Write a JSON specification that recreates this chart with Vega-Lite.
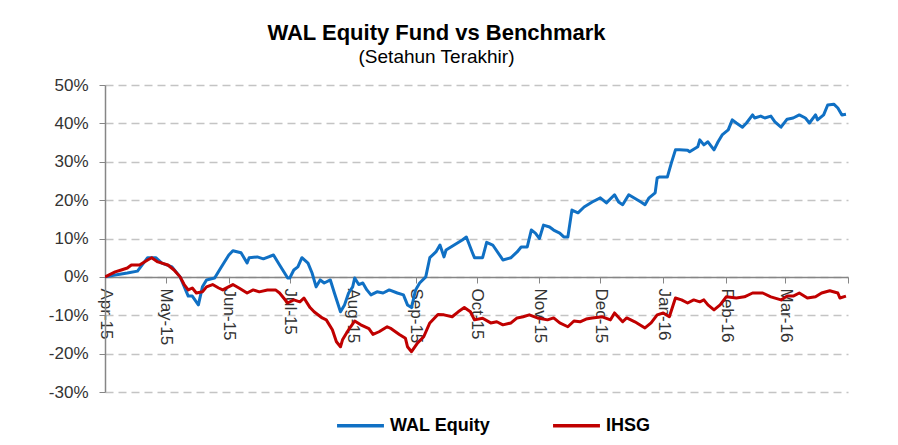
{
  "$schema": "https://vega.github.io/schema/vega-lite/v6.json",
  "width": 743,
  "height": 307,
  "autosize": {"type": "none"},
  "padding": {"left": 105, "top": 85, "right": 50, "bottom": 53},
  "background": "white",
  "title": {
    "text": "WAL Equity Fund vs Benchmark",
    "subtitle": "(Setahun Terakhir)",
    "anchor": "middle",
    "dx": -40,
    "font": "Liberation Sans",
    "fontSize": 22,
    "fontWeight": "bold",
    "color": "#000000",
    "subtitleFont": "Liberation Sans",
    "subtitleFontSize": 19,
    "subtitleColor": "#000000",
    "subtitlePadding": 3,
    "offset": 8
  },
  "data": {"name": "rows"},
  "datasets": {
    "rows": [
      {"d":"2015-04-01","s":"WAL Equity","v":0},{"d":"2015-04-06","s":"WAL Equity","v":0.5},{"d":"2015-04-12","s":"WAL Equity","v":1},{"d":"2015-04-17","s":"WAL Equity","v":1.5},{"d":"2015-04-22","s":"WAL Equity","v":5},{"d":"2015-04-26","s":"WAL Equity","v":5},{"d":"2015-04-29","s":"WAL Equity","v":3.6},{"d":"2015-05-04","s":"WAL Equity","v":2.6},{"d":"2015-05-08","s":"WAL Equity","v":0},{"d":"2015-05-12","s":"WAL Equity","v":-5},{"d":"2015-05-14","s":"WAL Equity","v":-5},{"d":"2015-05-17","s":"WAL Equity","v":-7.3},{"d":"2015-05-19","s":"WAL Equity","v":-2.6},{"d":"2015-05-21","s":"WAL Equity","v":-0.8},{"d":"2015-05-25","s":"WAL Equity","v":-0.3},{"d":"2015-05-28","s":"WAL Equity","v":2.3},{"d":"2015-06-01","s":"WAL Equity","v":5.7},{"d":"2015-06-03","s":"WAL Equity","v":6.8},{"d":"2015-06-07","s":"WAL Equity","v":6.3},{"d":"2015-06-10","s":"WAL Equity","v":3.6},{"d":"2015-06-11","s":"WAL Equity","v":5},{"d":"2015-06-15","s":"WAL Equity","v":5.2},{"d":"2015-06-18","s":"WAL Equity","v":4.7},{"d":"2015-06-23","s":"WAL Equity","v":5.7},{"d":"2015-06-26","s":"WAL Equity","v":3.1},{"d":"2015-06-30","s":"WAL Equity","v":-0.3},{"d":"2015-07-01","s":"WAL Equity","v":-0.3},{"d":"2015-07-03","s":"WAL Equity","v":1.8},{"d":"2015-07-05","s":"WAL Equity","v":2.6},{"d":"2015-07-07","s":"WAL Equity","v":5},{"d":"2015-07-10","s":"WAL Equity","v":3.6},{"d":"2015-07-12","s":"WAL Equity","v":1},{"d":"2015-07-14","s":"WAL Equity","v":-2.6},{"d":"2015-07-16","s":"WAL Equity","v":-0.8},{"d":"2015-07-18","s":"WAL Equity","v":-1.6},{"d":"2015-07-21","s":"WAL Equity","v":-0.8},{"d":"2015-07-23","s":"WAL Equity","v":-4.2},{"d":"2015-07-26","s":"WAL Equity","v":-9.1},{"d":"2015-07-28","s":"WAL Equity","v":-7.3},{"d":"2015-07-30","s":"WAL Equity","v":-4.2},{"d":"2015-08-01","s":"WAL Equity","v":-2.6},{"d":"2015-08-02","s":"WAL Equity","v":-0.3},{"d":"2015-08-04","s":"WAL Equity","v":-2},{"d":"2015-08-06","s":"WAL Equity","v":-1.6},{"d":"2015-08-08","s":"WAL Equity","v":-3.4},{"d":"2015-08-10","s":"WAL Equity","v":-4.7},{"d":"2015-08-13","s":"WAL Equity","v":-3.9},{"d":"2015-08-16","s":"WAL Equity","v":-4.2},{"d":"2015-08-19","s":"WAL Equity","v":-3.4},{"d":"2015-08-23","s":"WAL Equity","v":-4.2},{"d":"2015-08-26","s":"WAL Equity","v":-4.7},{"d":"2015-08-28","s":"WAL Equity","v":-7.3},{"d":"2015-08-30","s":"WAL Equity","v":-8},{"d":"2015-09-01","s":"WAL Equity","v":-3.4},{"d":"2015-09-03","s":"WAL Equity","v":-1.6},{"d":"2015-09-06","s":"WAL Equity","v":0},{"d":"2015-09-08","s":"WAL Equity","v":5},{"d":"2015-09-11","s":"WAL Equity","v":6.5},{"d":"2015-09-13","s":"WAL Equity","v":8.3},{"d":"2015-09-15","s":"WAL Equity","v":5.2},{"d":"2015-09-16","s":"WAL Equity","v":7},{"d":"2015-09-20","s":"WAL Equity","v":8.3},{"d":"2015-09-24","s":"WAL Equity","v":9.6},{"d":"2015-09-26","s":"WAL Equity","v":10.4},{"d":"2015-09-29","s":"WAL Equity","v":6.3},{"d":"2015-09-30","s":"WAL Equity","v":5},{"d":"2015-10-04","s":"WAL Equity","v":5},{"d":"2015-10-06","s":"WAL Equity","v":9},{"d":"2015-10-09","s":"WAL Equity","v":8.3},{"d":"2015-10-13","s":"WAL Equity","v":5.2},{"d":"2015-10-14","s":"WAL Equity","v":4.4},{"d":"2015-10-18","s":"WAL Equity","v":5},{"d":"2015-10-21","s":"WAL Equity","v":6.5},{"d":"2015-10-23","s":"WAL Equity","v":7.8},{"d":"2015-10-26","s":"WAL Equity","v":7.8},{"d":"2015-10-28","s":"WAL Equity","v":12.2},{"d":"2015-10-30","s":"WAL Equity","v":11.4},{"d":"2015-11-01","s":"WAL Equity","v":10},{"d":"2015-11-03","s":"WAL Equity","v":13.5},{"d":"2015-11-06","s":"WAL Equity","v":13},{"d":"2015-11-08","s":"WAL Equity","v":12.2},{"d":"2015-11-11","s":"WAL Equity","v":11.4},{"d":"2015-11-13","s":"WAL Equity","v":10.4},{"d":"2015-11-15","s":"WAL Equity","v":10.4},{"d":"2015-11-17","s":"WAL Equity","v":17.4},{"d":"2015-11-20","s":"WAL Equity","v":16.7},{"d":"2015-11-23","s":"WAL Equity","v":18.2},{"d":"2015-11-27","s":"WAL Equity","v":19.5},{"d":"2015-12-01","s":"WAL Equity","v":20.6},{"d":"2015-12-04","s":"WAL Equity","v":19.3},{"d":"2015-12-08","s":"WAL Equity","v":21.4},{"d":"2015-12-10","s":"WAL Equity","v":19.5},{"d":"2015-12-12","s":"WAL Equity","v":18.8},{"d":"2015-12-15","s":"WAL Equity","v":21.4},{"d":"2015-12-21","s":"WAL Equity","v":19.5},{"d":"2015-12-23","s":"WAL Equity","v":18.8},{"d":"2015-12-25","s":"WAL Equity","v":20.6},{"d":"2015-12-28","s":"WAL Equity","v":21.9},{"d":"2015-12-29","s":"WAL Equity","v":25.8},{"d":"2015-12-30","s":"WAL Equity","v":26},{"d":"2016-01-03","s":"WAL Equity","v":26},{"d":"2016-01-05","s":"WAL Equity","v":29.7},{"d":"2016-01-07","s":"WAL Equity","v":33.1},{"d":"2016-01-09","s":"WAL Equity","v":33.1},{"d":"2016-01-13","s":"WAL Equity","v":33},{"d":"2016-01-14","s":"WAL Equity","v":32.6},{"d":"2016-01-18","s":"WAL Equity","v":33.9},{"d":"2016-01-19","s":"WAL Equity","v":35.7},{"d":"2016-01-21","s":"WAL Equity","v":34.4},{"d":"2016-01-23","s":"WAL Equity","v":35.2},{"d":"2016-01-26","s":"WAL Equity","v":33.1},{"d":"2016-01-28","s":"WAL Equity","v":35.2},{"d":"2016-01-30","s":"WAL Equity","v":37},{"d":"2016-02-02","s":"WAL Equity","v":38.3},{"d":"2016-02-04","s":"WAL Equity","v":40.9},{"d":"2016-02-06","s":"WAL Equity","v":40.1},{"d":"2016-02-09","s":"WAL Equity","v":39},{"d":"2016-02-11","s":"WAL Equity","v":40.1},{"d":"2016-02-14","s":"WAL Equity","v":42.2},{"d":"2016-02-15","s":"WAL Equity","v":41.4},{"d":"2016-02-18","s":"WAL Equity","v":41.9},{"d":"2016-02-20","s":"WAL Equity","v":41.4},{"d":"2016-02-23","s":"WAL Equity","v":41.9},{"d":"2016-02-25","s":"WAL Equity","v":40.4},{"d":"2016-02-28","s":"WAL Equity","v":39},{"d":"2016-03-02","s":"WAL Equity","v":41.1},{"d":"2016-03-05","s":"WAL Equity","v":41.4},{"d":"2016-03-08","s":"WAL Equity","v":42.2},{"d":"2016-03-11","s":"WAL Equity","v":41.4},{"d":"2016-03-13","s":"WAL Equity","v":40.1},{"d":"2016-03-16","s":"WAL Equity","v":42.2},{"d":"2016-03-17","s":"WAL Equity","v":40.9},{"d":"2016-03-20","s":"WAL Equity","v":42.2},{"d":"2016-03-22","s":"WAL Equity","v":44.8},{"d":"2016-03-25","s":"WAL Equity","v":45},{"d":"2016-03-27","s":"WAL Equity","v":44},{"d":"2016-03-29","s":"WAL Equity","v":42.2},{"d":"2016-03-31","s":"WAL Equity","v":42.4},
      {"d":"2015-04-01","s":"IHSG","v":0},{"d":"2015-04-06","s":"IHSG","v":1.3},{"d":"2015-04-09","s":"IHSG","v":1.8},{"d":"2015-04-12","s":"IHSG","v":2.3},{"d":"2015-04-14","s":"IHSG","v":3.1},{"d":"2015-04-18","s":"IHSG","v":3.1},{"d":"2015-04-22","s":"IHSG","v":4.4},{"d":"2015-04-24","s":"IHSG","v":5},{"d":"2015-04-27","s":"IHSG","v":3.9},{"d":"2015-04-29","s":"IHSG","v":3.6},{"d":"2015-05-02","s":"IHSG","v":3.1},{"d":"2015-05-05","s":"IHSG","v":1.8},{"d":"2015-05-08","s":"IHSG","v":0},{"d":"2015-05-10","s":"IHSG","v":-2},{"d":"2015-05-12","s":"IHSG","v":-3.4},{"d":"2015-05-14","s":"IHSG","v":-2.9},{"d":"2015-05-16","s":"IHSG","v":-4.2},{"d":"2015-05-19","s":"IHSG","v":-3.9},{"d":"2015-05-21","s":"IHSG","v":-2.6},{"d":"2015-05-24","s":"IHSG","v":-2},{"d":"2015-05-27","s":"IHSG","v":-2.9},{"d":"2015-05-29","s":"IHSG","v":-3.4},{"d":"2015-06-03","s":"IHSG","v":-2},{"d":"2015-06-06","s":"IHSG","v":-2.9},{"d":"2015-06-10","s":"IHSG","v":-4.2},{"d":"2015-06-13","s":"IHSG","v":-3.4},{"d":"2015-06-16","s":"IHSG","v":-3.9},{"d":"2015-06-20","s":"IHSG","v":-3.4},{"d":"2015-06-24","s":"IHSG","v":-3.4},{"d":"2015-06-26","s":"IHSG","v":-4.2},{"d":"2015-06-30","s":"IHSG","v":-6.8},{"d":"2015-07-03","s":"IHSG","v":-6},{"d":"2015-07-06","s":"IHSG","v":-6.5},{"d":"2015-07-08","s":"IHSG","v":-5.5},{"d":"2015-07-11","s":"IHSG","v":-8},{"d":"2015-07-13","s":"IHSG","v":-9.1},{"d":"2015-07-17","s":"IHSG","v":-10.7},{"d":"2015-07-19","s":"IHSG","v":-11.2},{"d":"2015-07-22","s":"IHSG","v":-13.8},{"d":"2015-07-24","s":"IHSG","v":-16.9},{"d":"2015-07-26","s":"IHSG","v":-18.2},{"d":"2015-07-27","s":"IHSG","v":-16.4},{"d":"2015-07-29","s":"IHSG","v":-14.6},{"d":"2015-07-31","s":"IHSG","v":-13},{"d":"2015-08-02","s":"IHSG","v":-11.5},{"d":"2015-08-05","s":"IHSG","v":-12.5},{"d":"2015-08-09","s":"IHSG","v":-13.5},{"d":"2015-08-11","s":"IHSG","v":-15},{"d":"2015-08-14","s":"IHSG","v":-14.3},{"d":"2015-08-18","s":"IHSG","v":-13},{"d":"2015-08-20","s":"IHSG","v":-13.5},{"d":"2015-08-24","s":"IHSG","v":-15},{"d":"2015-08-27","s":"IHSG","v":-16},{"d":"2015-08-28","s":"IHSG","v":-18.2},{"d":"2015-08-30","s":"IHSG","v":-19.5},{"d":"2015-09-02","s":"IHSG","v":-17.2},{"d":"2015-09-05","s":"IHSG","v":-15.6},{"d":"2015-09-08","s":"IHSG","v":-12},{"d":"2015-09-12","s":"IHSG","v":-9.8},{"d":"2015-09-15","s":"IHSG","v":-9.9},{"d":"2015-09-19","s":"IHSG","v":-10.4},{"d":"2015-09-22","s":"IHSG","v":-9.1},{"d":"2015-09-25","s":"IHSG","v":-8},{"d":"2015-09-28","s":"IHSG","v":-9.1},{"d":"2015-09-30","s":"IHSG","v":-11.2},{"d":"2015-10-04","s":"IHSG","v":-10.8},{"d":"2015-10-08","s":"IHSG","v":-12},{"d":"2015-10-11","s":"IHSG","v":-11.7},{"d":"2015-10-14","s":"IHSG","v":-12.5},{"d":"2015-10-18","s":"IHSG","v":-12},{"d":"2015-10-21","s":"IHSG","v":-10.7},{"d":"2015-10-24","s":"IHSG","v":-10.4},{"d":"2015-10-27","s":"IHSG","v":-9.9},{"d":"2015-10-31","s":"IHSG","v":-10.7},{"d":"2015-11-05","s":"IHSG","v":-11.2},{"d":"2015-11-08","s":"IHSG","v":-10.7},{"d":"2015-11-11","s":"IHSG","v":-12},{"d":"2015-11-15","s":"IHSG","v":-13},{"d":"2015-11-18","s":"IHSG","v":-11.5},{"d":"2015-11-21","s":"IHSG","v":-11.7},{"d":"2015-11-24","s":"IHSG","v":-11},{"d":"2015-11-27","s":"IHSG","v":-10.7},{"d":"2015-12-02","s":"IHSG","v":-10.4},{"d":"2015-12-06","s":"IHSG","v":-11.2},{"d":"2015-12-08","s":"IHSG","v":-9.4},{"d":"2015-12-12","s":"IHSG","v":-11.7},{"d":"2015-12-14","s":"IHSG","v":-10.7},{"d":"2015-12-18","s":"IHSG","v":-11.7},{"d":"2015-12-23","s":"IHSG","v":-13.3},{"d":"2015-12-26","s":"IHSG","v":-12},{"d":"2015-12-29","s":"IHSG","v":-9.9},{"d":"2016-01-01","s":"IHSG","v":-9.4},{"d":"2016-01-04","s":"IHSG","v":-10.4},{"d":"2016-01-07","s":"IHSG","v":-5.5},{"d":"2016-01-10","s":"IHSG","v":-6},{"d":"2016-01-13","s":"IHSG","v":-6.8},{"d":"2016-01-16","s":"IHSG","v":-6},{"d":"2016-01-19","s":"IHSG","v":-6.5},{"d":"2016-01-21","s":"IHSG","v":-6},{"d":"2016-01-23","s":"IHSG","v":-7.3},{"d":"2016-01-26","s":"IHSG","v":-8.6},{"d":"2016-01-29","s":"IHSG","v":-7.3},{"d":"2016-02-01","s":"IHSG","v":-5.2},{"d":"2016-02-06","s":"IHSG","v":-5.5},{"d":"2016-02-10","s":"IHSG","v":-5.2},{"d":"2016-02-14","s":"IHSG","v":-4.2},{"d":"2016-02-19","s":"IHSG","v":-4.2},{"d":"2016-02-23","s":"IHSG","v":-5.2},{"d":"2016-02-28","s":"IHSG","v":-6},{"d":"2016-03-02","s":"IHSG","v":-5},{"d":"2016-03-05","s":"IHSG","v":-5},{"d":"2016-03-08","s":"IHSG","v":-4.2},{"d":"2016-03-12","s":"IHSG","v":-5.5},{"d":"2016-03-16","s":"IHSG","v":-5.2},{"d":"2016-03-19","s":"IHSG","v":-4.2},{"d":"2016-03-23","s":"IHSG","v":-3.6},{"d":"2016-03-27","s":"IHSG","v":-4.2},{"d":"2016-03-28","s":"IHSG","v":-5.5},{"d":"2016-03-31","s":"IHSG","v":-5}
    ]
  },
  "mark": {"type": "line", "strokeWidth": 3, "strokeJoin": "round", "clip": true},
  "encoding": {
    "x": {
      "field": "d",
      "type": "temporal",
      "scale": {
        "type": "utc",
        "domain": [
          {"year": 2015, "month": 4, "date": 1, "utc": true},
          {"year": 2016, "month": 4, "date": 1, "utc": true}
        ]
      },
      "axis": {
        "title": null,
        "offset": -115,
        "grid": false,
        "values": [
          {"year": 2015, "month": 4, "date": 1, "utc": true},
          {"year": 2015, "month": 5, "date": 1, "utc": true},
          {"year": 2015, "month": 6, "date": 1, "utc": true},
          {"year": 2015, "month": 7, "date": 1, "utc": true},
          {"year": 2015, "month": 8, "date": 1, "utc": true},
          {"year": 2015, "month": 9, "date": 1, "utc": true},
          {"year": 2015, "month": 10, "date": 1, "utc": true},
          {"year": 2015, "month": 11, "date": 1, "utc": true},
          {"year": 2015, "month": 12, "date": 1, "utc": true},
          {"year": 2016, "month": 1, "date": 1, "utc": true},
          {"year": 2016, "month": 2, "date": 1, "utc": true},
          {"year": 2016, "month": 3, "date": 1, "utc": true},
          {"year": 2016, "month": 4, "date": 1, "utc": true}
        ],
        "labelExpr": "utcyear(datum.value) == 2016 && utcmonth(datum.value) == 3 ? '' : utcFormat(datum.value, '%b-%y')",
        "labelAngle": 90,
        "labelFont": "Liberation Sans",
        "labelFontSize": 17,
        "labelColor": "#333333",
        "labelPadding": 5,
        "labelOverlap": false,
        "labelFlush": false,
        "tickSize": 6,
        "tickColor": "#868686",
        "domainColor": "#868686",
        "domainWidth": 1.5
      }
    },
    "y": {
      "field": "v",
      "type": "quantitative",
      "scale": {"domain": [-30, 50], "nice": false, "zero": false},
      "axis": {
        "title": null,
        "values": [-30, -20, -10, 0, 10, 20, 30, 40, 50],
        "labelExpr": "datum.value + '%'",
        "labelFont": "Liberation Sans",
        "labelFontSize": 17,
        "labelColor": "#333333",
        "labelPadding": 11,
        "tickSize": 6,
        "tickColor": "#868686",
        "domainColor": "#868686",
        "domainWidth": 1.5,
        "grid": true,
        "gridColor": "#c4c4c4",
        "gridDash": [8, 5],
        "gridWidth": 1.5
      }
    },
    "color": {
      "field": "s",
      "type": "nominal",
      "scale": {"domain": ["WAL Equity", "IHSG"], "range": ["#1070C4", "#C00000"]},
      "legend": {
        "title": null,
        "orient": "none",
        "legendX": 230,
        "legendY": 315,
        "direction": "horizontal",
        "symbolType": "stroke",
        "symbolSize": 2200,
        "symbolStrokeWidth": 3.5,
        "labelFont": "Liberation Sans",
        "labelFontSize": 18,
        "labelFontWeight": "bold",
        "labelColor": "#000000",
        "labelOffset": 4,
        "columnPadding": 56
      }
    }
  },
  "config": {
    "view": {"stroke": null}
  }
}
